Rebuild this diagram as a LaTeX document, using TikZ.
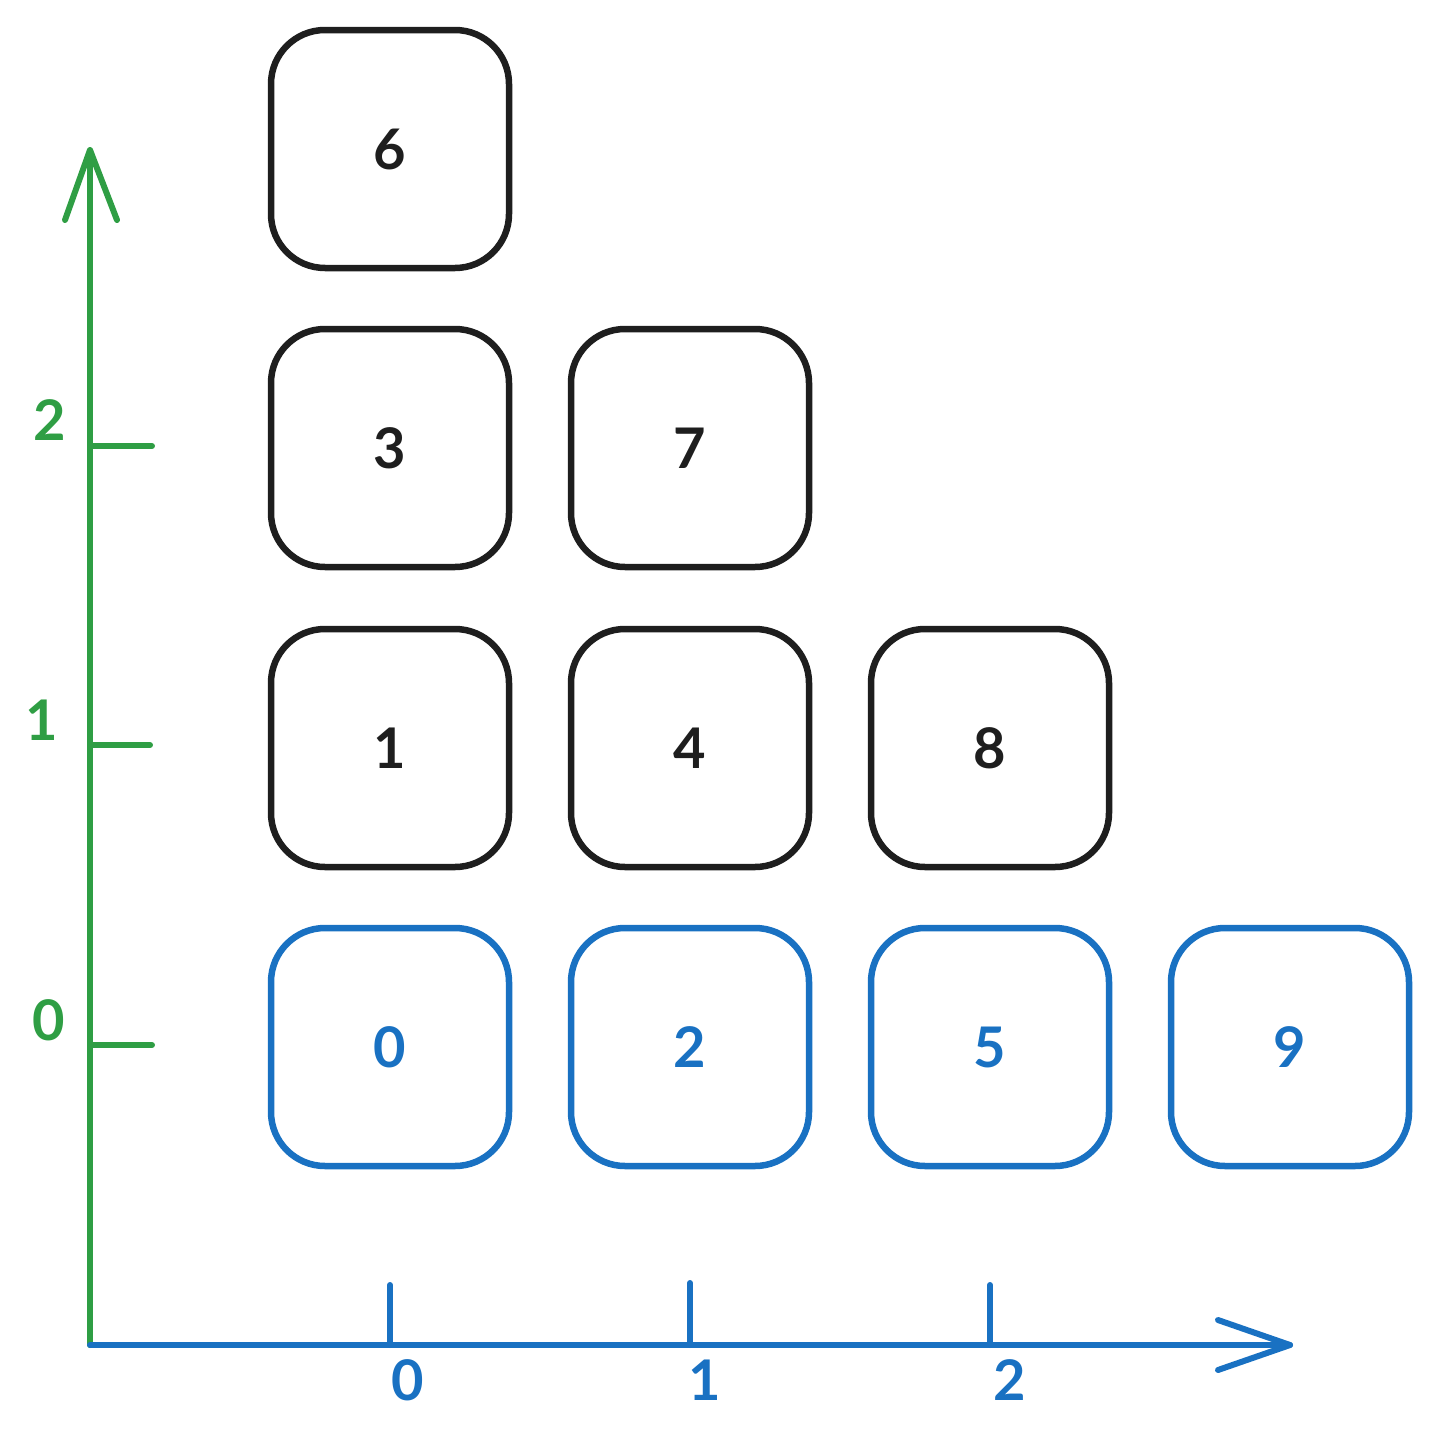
\documentclass[tikz,border=0pt]{standalone}
\usepackage{fontspec}
\setmainfont{Lato}
\definecolor{inkblack}{HTML}{1E1E1E}
\definecolor{inkblue}{HTML}{1971C2}
\definecolor{inkgreen}{HTML}{2F9E44}
\begin{document}
\begin{tikzpicture}[x=1pt,y=-1pt,
  cell/.style={draw=inkblack,line width=6.5pt,rounded corners=54pt,
    minimum width=238pt,minimum height=238pt,inner sep=0pt,
    font=\fontsize{56}{60}\selectfont\bfseries,text=inkblack},
  basecell/.style={cell,draw=inkblue,text=inkblue},
  axisline/.style={line width=6pt,line cap=round,line join=round},
  ticklbl/.style={font=\fontsize{56}{60}\selectfont\bfseries,inner sep=0pt}]
\useasboundingbox (0,0) rectangle (1440,1451);

% grid of cells
\node[cell] (c6) at (390,149) {6};
\node[cell] (c3) at (390,448) {3};
\node[cell] (c7) at (690,448) {7};
\node[cell] (c1) at (390,748) {1};
\node[cell] (c4) at (690,748) {4};
\node[cell] (c8) at (990,748) {8};
\node[basecell] (c0) at (390,1047) {0};
\node[basecell] (c2) at (690,1047) {2};
\node[basecell] (c5) at (990,1047) {5};
\node[basecell] (c9) at (1290,1047) {9};

% vertical axis
\coordinate (origin) at (90,1345);
\coordinate (ytop) at (90,150);
\coordinate (yl) at (65,220);
\coordinate (yr) at (117,220);
\draw[axisline,inkgreen] (origin) -- (ytop);
\draw[axisline,inkgreen] (yl) -- (ytop) -- (yr);
\coordinate (yt2) at (152,446);
\coordinate (yt1) at (150,745);
\coordinate (yt0) at (152,1045);
\draw[axisline,inkgreen] (90,446) -- (yt2);
\draw[axisline,inkgreen] (90,745) -- (yt1);
\draw[axisline,inkgreen] (90,1045) -- (yt0);
\node[ticklbl,text=inkgreen] (ly2) at (50,420) {2};
\node[ticklbl,text=inkgreen] (ly1) at (42,720) {1};
\node[ticklbl,text=inkgreen] (ly0) at (49,1020) {0};

% horizontal axis
\coordinate (xend) at (1290,1345);
\coordinate (xu) at (1218,1320);
\coordinate (xd) at (1218,1370);
\draw[axisline,inkblue] (origin) -- (xend);
\draw[axisline,inkblue] (xu) -- (xend) -- (xd);
\coordinate (xt0) at (390,1285);
\coordinate (xt1) at (690,1283);
\coordinate (xt2) at (990,1285);
\draw[axisline,inkblue] (xt0) -- (390,1345);
\draw[axisline,inkblue] (xt1) -- (690,1345);
\draw[axisline,inkblue] (xt2) -- (990,1345);
\node[ticklbl,text=inkblue] (lx0) at (408,1380) {0};
\node[ticklbl,text=inkblue] (lx1) at (705,1380) {1};
\node[ticklbl,text=inkblue] (lx2) at (1010,1380) {2};
\end{tikzpicture}
\end{document}
